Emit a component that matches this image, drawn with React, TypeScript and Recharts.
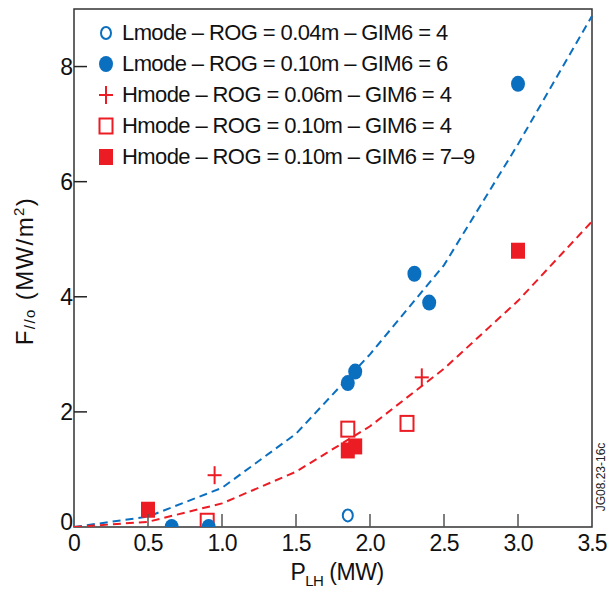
import {
  ComposedChart,
  Scatter,
  Line,
  XAxis,
  YAxis,
  ReferenceArea,
  Legend,
  Label,
} from 'recharts';

const BLUE = '#0b6fc0';
const RED = '#ec1c24';
const FONT = '"Liberation Sans", Arial, Helvetica, sans-serif';

const xTicks = [0, 0.5, 1, 1.5, 2, 2.5, 3, 3.5];
const yTicks = [0, 2, 4, 6, 8];

// measured points, x = P_LH (MW), y = F//O (MW/m2)
const lmodeRog004Gim4 = [{ x: 1.85, y: 0.2 }];
const lmodeRog010Gim6 = [
  { x: 0.66, y: 0 },
  { x: 0.91, y: 0 },
  { x: 1.85, y: 2.5 },
  { x: 1.9, y: 2.7 },
  { x: 2.3, y: 4.4 },
  { x: 2.4, y: 3.9 },
  { x: 3.0, y: 7.7 },
];
const hmodeRog006Gim4 = [
  { x: 0.95, y: 0.9 },
  { x: 2.35, y: 2.6 },
];
const hmodeRog010Gim4 = [
  { x: 0.9, y: 0.1 },
  { x: 1.85, y: 1.7 },
  { x: 2.25, y: 1.8 },
];
const hmodeRog010Gim79 = [
  { x: 0.5, y: 0.3 },
  { x: 1.85, y: 1.33 },
  { x: 1.9, y: 1.4 },
  { x: 3.0, y: 4.8 },
];

// dashed model curves
const lmodeFit = [
  { x: 0, y: 0 },
  { x: 0.5, y: 0.18 },
  { x: 1.0, y: 0.68 },
  { x: 1.5, y: 1.62 },
  { x: 2.0, y: 3.0 },
  { x: 2.5, y: 4.55 },
  { x: 3.0, y: 6.65 },
  { x: 3.5, y: 8.88 },
];
const hmodeFit = [
  { x: 0, y: 0 },
  { x: 0.5, y: 0.09 },
  { x: 1.0, y: 0.41 },
  { x: 1.5, y: 0.96 },
  { x: 2.0, y: 1.75 },
  { x: 2.5, y: 2.75 },
  { x: 3.0, y: 3.93 },
  { x: 3.5, y: 5.31 },
];

const legendLabels = [
  'Lmode \u2013 ROG = 0.04m \u2013 GIM6 = 4',
  'Lmode \u2013 ROG = 0.10m \u2013 GIM6 = 6',
  'Hmode \u2013 ROG = 0.06m \u2013 GIM6 = 4',
  'Hmode \u2013 ROG = 0.10m \u2013 GIM6 = 4',
  'Hmode \u2013 ROG = 0.10m \u2013 GIM6 = 7\u20139',
];
const markerKinds = ['openCircle', 'circle', 'plus', 'openSquare', 'square'];

function Marker({ kind, cx, cy }: { kind: string; cx: number; cy: number }) {
  switch (kind) {
    case 'openCircle':
      return <ellipse cx={cx} cy={cy} rx={5} ry={6} fill="none" stroke={BLUE} strokeWidth={2} />;
    case 'circle':
      return <ellipse cx={cx} cy={cy} rx={7} ry={8} fill={BLUE} />;
    case 'plus':
      return (
        <g stroke={RED} strokeWidth={2}>
          <line x1={cx - 7} x2={cx + 7} y1={cy} y2={cy} />
          <line x1={cx} x2={cx} y1={cy - 9} y2={cy + 9} />
        </g>
      );
    case 'openSquare':
      return <rect x={cx - 6.5} y={cy - 7.5} width={13} height={15} fill="none" stroke={RED} strokeWidth={2} />;
    default:
      return <rect x={cx - 7} y={cy - 8} width={14} height={16} fill={RED} />;
  }
}

// data markers are clipped to the plot frame, like the half-hidden points sitting on the axis
const shapeOf = (kind: string) => (p: any) => (
  <g clipPath="url(#plotFrameClip)">
    <Marker kind={kind} cx={p.cx} cy={p.cy} />
  </g>
);

function XTick(props: any) {
  const { x, y, payload } = props;
  const v = payload.value as number;
  return (
    <g>
      {v > 0 && v < 3.5 && (
        <line x1={x} x2={x} y1={y} y2={y - 13} stroke="#555" strokeWidth={1.5} />
      )}
      <text x={x} y={y + 24} textAnchor="middle" fontFamily={FONT} fontSize={23} letterSpacing={-1} fill="#111">
        {v === 0 ? '0' : v.toFixed(1)}
      </text>
    </g>
  );
}

function YTick(props: any) {
  const { x, y, payload } = props;
  const v = payload.value as number;
  return (
    <g>
      {v > 0 && <line x1={x} x2={x + 13} y1={y} y2={y} stroke="#222" strokeWidth={1.5} />}
      <text x={x - 1} y={v === 0 ? y + 3 : y + 8.5} textAnchor="end" fontFamily={FONT} fontSize={23} fill="#111">
        {v}
      </text>
    </g>
  );
}

function LegendBox() {
  return (
    <div style={{ fontFamily: FONT, fontSize: 22, letterSpacing: -0.6, color: '#111' }}>
      {legendLabels.map((label, i) => (
        <div key={label} style={{ display: 'flex', alignItems: 'center', height: 31 }}>
          <svg width={22} height={22} style={{ marginRight: 5 }}>
            <Marker kind={markerKinds[i]} cx={11} cy={11} />
          </svg>
          <span style={{ whiteSpace: 'nowrap' }}>{label}</span>
        </div>
      ))}
    </div>
  );
}

export default function App() {
  return (
    <div style={{ position: 'absolute', left: 0, top: 0, background: '#fff' }}>
      <ComposedChart width={615} height={590} margin={{ top: 9, right: 23, left: 0, bottom: 0 }}>
        <XAxis
          dataKey="x"
          type="number"
          domain={[0, 3.5]}
          ticks={xTicks}
          axisLine={false}
          tickLine={false}
          tickSize={0}
          tickMargin={0}
          height={63}
          tick={<XTick />}
          label={(p: any) => {
            const vb = p.viewBox;
            return (
              <text x={vb.x + vb.width / 2 + 4} y={vb.y + 53} textAnchor="middle" fontFamily={FONT} fontSize={23} letterSpacing={-0.5} fill="#111">
                P
                <tspan fontSize={15} dy={6}>LH</tspan>
                <tspan dy={-6}> (MW)</tspan>
              </text>
            );
          }}
        />
        <YAxis
          dataKey="y"
          type="number"
          domain={[0, 9]}
          ticks={yTicks}
          allowDataOverflow
          axisLine={false}
          tickLine={false}
          tickSize={0}
          tickMargin={0}
          width={74}
          tick={<YTick />}
          label={(p: any) => {
            const vb = p.viewBox;
            const cy = vb.y + vb.height / 2 + 3;
            return (
              <text transform={`translate(33,${cy}) rotate(-90)`} textAnchor="middle" fontFamily={FONT} fontSize={24} letterSpacing={1.4} fill="#111">
                F
                <tspan fontSize={15} dy={2}>//o</tspan>
                <tspan dy={-2}> (MW/m</tspan>
                <tspan fontSize={15} dy={-9}>2</tspan>
                <tspan dy={9}>)</tspan>
              </text>
            );
          }}
        />
        <ReferenceArea x1={0} x2={3.5} y1={0} y2={9} fill="none" stroke="#333" strokeWidth={1.5}>
          <Label
            content={(p: any) => {
              const vb = p.viewBox;
              return (
                <g>
                  <defs>
                    <clipPath id="plotFrameClip">
                      <rect x={vb.x} y={vb.y} width={vb.width} height={vb.height} />
                    </clipPath>
                  </defs>
                  <text
                    transform={`translate(${vb.x + vb.width + 13},${vb.y + vb.height - 50}) rotate(-90)`}
                    textAnchor="middle"
                    fontFamily={FONT}
                    fontSize={12}
                    fill="#222"
                  >
                    JG08.23-16c
                  </text>
                </g>
              );
            }}
          />
        </ReferenceArea>
        <Line data={lmodeFit} dataKey="y" type="linear" stroke={BLUE} strokeWidth={2} strokeDasharray="8 5" dot={false} isAnimationActive={false} />
        <Line data={hmodeFit} dataKey="y" type="linear" stroke={RED} strokeWidth={2} strokeDasharray="8 5" dot={false} isAnimationActive={false} />
        <Scatter data={lmodeRog004Gim4} dataKey="y" shape={shapeOf('openCircle')} isAnimationActive={false} />
        <Scatter data={hmodeRog006Gim4} dataKey="y" shape={shapeOf('plus')} isAnimationActive={false} />
        <Scatter data={hmodeRog010Gim4} dataKey="y" shape={shapeOf('openSquare')} isAnimationActive={false} />
        <Scatter data={lmodeRog010Gim6} dataKey="y" shape={shapeOf('circle')} isAnimationActive={false} />
        <Scatter data={hmodeRog010Gim79} dataKey="y" shape={shapeOf('square')} isAnimationActive={false} />
        <Legend
          layout="horizontal"
          align="center"
          verticalAlign="middle"
          wrapperStyle={{ left: 95, top: 17, width: 420 }}
          content={() => <LegendBox />}
        />
      </ComposedChart>
    </div>
  );
}
